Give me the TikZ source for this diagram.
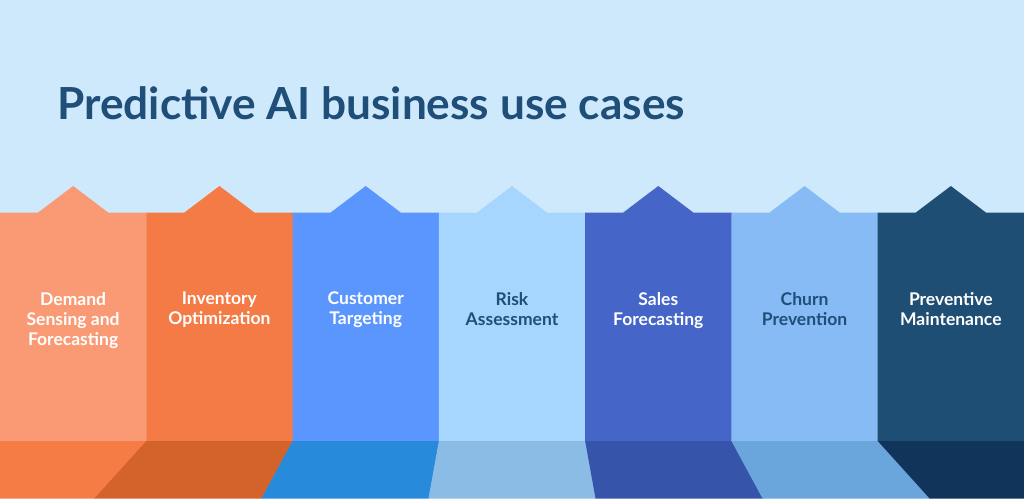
\documentclass[tikz,border=0pt]{standalone}
\usepackage{fontspec}
\setmainfont{Lato}
\definecolor{pcSky}{HTML}{CFE9FC}
\definecolor{pcInk}{HTML}{1F4E79}
\definecolor{pcA}{HTML}{FA9A74}
\definecolor{pcAs}{HTML}{F67C45}
\definecolor{pcB}{HTML}{F47B45}
\definecolor{pcBs}{HTML}{D4622B}
\definecolor{pcC}{HTML}{5B96FE}
\definecolor{pcCs}{HTML}{288ADB}
\definecolor{pcD}{HTML}{A6D6FE}
\definecolor{pcDs}{HTML}{8BBCE6}
\definecolor{pcE}{HTML}{4565C8}
\definecolor{pcEs}{HTML}{3554AA}
\definecolor{pcF}{HTML}{86BBF5}
\definecolor{pcFs}{HTML}{6AA5DC}
\definecolor{pcG}{HTML}{1F4E75}
\definecolor{pcGs}{HTML}{11355A}
\usetikzlibrary{calc}

\begin{document}
\begin{tikzpicture}[
  x=1pt,y=-1pt,
  usecase/.style={font=\bfseries\fontsize{17.5}{20}\selectfont,align=center,anchor=north,inner sep=0pt},
  headline/.style={font=\bfseries\fontsize{44.2}{50}\selectfont,text=pcInk,anchor=base west,inner sep=0pt}
]
\fill[pcSky] (0,0) rectangle (1024,498);
\clip (0,0) rectangle (1024,498);
\def\W{146.2857}
\foreach \i/\body/\shade/\ink/\what in {
  0/pcA/pcAs/white/{Demand\\Sensing and\\Forecasting},
  1/pcB/pcBs/white/{Inventory\\Optimization},
  2/pcC/pcCs/white/{Customer\\Targeting},
  3/pcD/pcDs/pcInk/{Risk\\Assessment},
  4/pcE/pcEs/white/{Sales\\Forecasting},
  5/pcF/pcFs/pcInk/{Churn\\Prevention},
  6/pcG/pcGs/white/{Preventive\\Maintenance}}
{
  \pgfmathsetmacro\xl{\i*\W}
  \pgfmathsetmacro\xr{(\i+1)*\W}
  \pgfmathsetmacro\xc{(\i+0.5)*\W}
  \pgfmathsetmacro\bl{512+(\xl-512)*1.142}
  \pgfmathsetmacro\br{512+(\xr-512)*1.142}
  % column with its arrow tip
  \fill[\body] (\xl,212.5) -- (\xc-35,212.5) -- (\xc,186) -- (\xc+35,212.5)
    -- (\xr+0.4,212.5) -- (\xr+0.4,441) -- (\xl,441) -- cycle;
  % floor
  \fill[\shade] (\xl,441) -- (\xr+0.4,441) -- (\br+0.4,498.5) -- (\bl,498.5) -- cycle;
  \node[usecase,text=\ink] (case\i) at (\xc,292) {\what};
}
\node[headline] (title) at (57,119) {Predictive AI business use cases};
\end{tikzpicture}
\end{document}
